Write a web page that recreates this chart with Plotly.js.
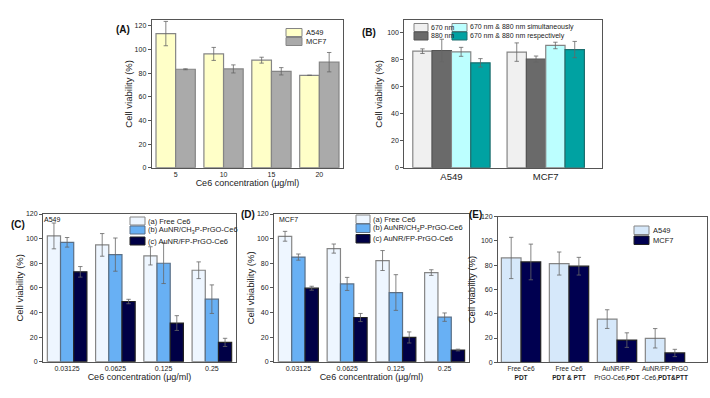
<!DOCTYPE html>
<html><head><meta charset="utf-8">
<script src="https://cdn.plot.ly/plotly-3.0.1.min.js"></script>
<style>html,body{margin:0;padding:0;background:#fff}#chart{width:710px;height:398px}</style>
</head><body><div id="chart"></div>
<script>
// ---------- Panel A ----------
const aCategories = ['5', '10', '15', '20'];
const aA549 = [113.5, 96.3, 91.0, 78.2];
const aA549Err = [10.3, 5.5, 2.5, 0];
const aMCF7 = [83.3, 83.6, 81.6, 89.3];
const aMCF7Err = [0.4, 3.4, 3.1, 8.2];
const aNames = ['A549', 'MCF7'];
// ---------- Panel B ----------
const bCategories = ['A549', 'MCF7'];
const b670 = [86.0, 85.3];
const b670Err = [1.7, 6.8];
const b880 = [86.5, 80.1];
const b880Err = [8.3, 2.3];
const bSimul = [85.5, 90.2];
const bSimulErr = [3.3, 2.4];
const bResp = [77.4, 87.2];
const bRespErr = [3.1, 6.0];
const bNames = ['670 nm', '880 nm', '670 nm & 880 nm simultaneously', '670 nm & 880 nm respectively'];
// ---------- Panels C and D ----------
const cdCategories = ['0.03125', '0.0625', '0.125', '0.25'];
const cdNames = ['(a) Free Ce6', '(b) AuNR/CH<sub>3</sub>P-PrGO-Ce6', '(c) AuNR/FP-PrGO-Ce6'];
const cFree = [102.2, 94.9, 86.0, 74.3];
const cFreeErr = [10.5, 9.2, 7.4, 6.8];
const cCH3 = [97.0, 87.0, 80.0, 50.8];
const cCH3Err = [3.9, 13.5, 16.5, 11.6];
const cFP = [73.0, 48.9, 31.4, 15.7];
const cFPErr = [4.3, 1.8, 6.0, 3.3];
const dFree = [101.9, 91.9, 82.2, 72.4];
const dFreeErr = [4.0, 3.7, 8.1, 2.3];
const dCH3 = [85.0, 63.2, 56.2, 36.2];
const dCH3Err = [2.5, 5.3, 14.5, 3.4];
const dFP = [59.7, 35.9, 19.7, 9.5];
const dFPErr = [1.6, 3.3, 4.5, 0.7];
// ---------- Panel E ----------
const eCategories = ['Free Ce6<br><b>PDT</b>', 'Free Ce6<br><b>PDT & PTT</b>', 'AuNR/FP-<br>PrGO-Ce6,<b>PDT</b>', 'AuNR/FP-PrGO<br>-Ce6,<b>PDT&PTT</b>'];
const eA549 = [86.0, 81.4, 35.6, 19.8];
const eA549Err = [17.0, 9.5, 7.7, 8.0];
const eMCF7 = [82.7, 79.2, 18.3, 7.7];
const eMCF7Err = [14.7, 7.3, 6.0, 3.0];
const eNames = ['A549', 'MCF7'];

// ---------- styling ----------
const W = 710, H = 398;
const FONT = 'Liberation Sans, Arial, sans-serif';
const colA = ['#ffffc8', '#aaaaaa'];
const colB = ['#f0f0f0', '#6a6a6a', '#bcffff', '#00a2a2'];
const colCD = ['#eef6ff', '#68b0f4', '#000046'];
const colE = ['#d6e8fa', '#000050'];
const lineGray = '#858585';

function bar(x, y, err, color, lc, xa, ya, name) {
  return {
    type: 'bar', x: x, y: y, name: name, xaxis: xa, yaxis: ya, showlegend: false,
    marker: {color: color, line: {color: lc, width: 1.2}},
    error_y: {type: 'data', array: err, visible: true, color: '#666', thickness: 0.8, width: 2.2},
    hoverinfo: 'x+y'
  };
}

const data = [
  bar(aCategories, aA549, aA549Err, colA[0], lineGray, 'x', 'y', aNames[0]),
  bar(aCategories, aMCF7, aMCF7Err, colA[1], lineGray, 'x', 'y', aNames[1]),
  bar(bCategories, b670, b670Err, colB[0], lineGray, 'x2', 'y2', bNames[0]),
  bar(bCategories, b880, b880Err, colB[1], '#555', 'x2', 'y2', bNames[1]),
  bar(bCategories, bSimul, bSimulErr, colB[2], lineGray, 'x2', 'y2', bNames[2]),
  bar(bCategories, bResp, bRespErr, colB[3], '#1c6f6f', 'x2', 'y2', bNames[3]),
  bar(cdCategories, cFree, cFreeErr, colCD[0], lineGray, 'x3', 'y3', cdNames[0]),
  bar(cdCategories, cCH3, cCH3Err, colCD[1], '#5a6f86', 'x3', 'y3', cdNames[1]),
  bar(cdCategories, cFP, cFPErr, colCD[2], '#222', 'x3', 'y3', cdNames[2]),
  bar(cdCategories, dFree, dFreeErr, colCD[0], lineGray, 'x4', 'y4', cdNames[0]),
  bar(cdCategories, dCH3, dCH3Err, colCD[1], '#5a6f86', 'x4', 'y4', cdNames[1]),
  bar(cdCategories, dFP, dFPErr, colCD[2], '#222', 'x4', 'y4', cdNames[2]),
  bar(eCategories, eA549, eA549Err, colE[0], lineGray, 'x5', 'y5', eNames[0]),
  bar(eCategories, eMCF7, eMCF7Err, colE[1], '#222', 'x5', 'y5', eNames[1])
];

const dx = (l, r) => [l / W, r / W];
const dy = (t, b) => [1 - b / H, 1 - t / H];
const frame = {showline: true, mirror: true, linecolor: '#555', linewidth: 1, zeroline: false,
  showgrid: false, fixedrange: true};
function xAx(dom, anchor, range, fs, title) {
  const o = Object.assign({}, frame, {domain: dom, anchor: anchor, type: 'category', range: range,
    ticks: '', tickfont: {family: FONT, size: fs, color: '#222'}});
  if (title) o.title = {text: title, font: {family: FONT, size: 9, color: '#222'}, standoff: 2};
  return o;
}
function yAx(dom, anchor, range, title, standoff) {
  return Object.assign({}, frame, {domain: dom, anchor: anchor, range: range,
    ticks: 'outside', ticklen: 3, tickwidth: 1, tickcolor: '#555', dtick: 20,
    tickfont: {family: FONT, size: 7, color: '#222'},
    title: {text: title, font: {family: FONT, size: 9.5, color: '#222'}, standoff: standoff}});
}

const xTitle = 'Ce6 concentration (\u03bcg/ml)';
const layout = {
  width: W, height: H, margin: {l: 0, r: 0, t: 0, b: 0},
  paper_bgcolor: '#fff', plot_bgcolor: '#fff',
  barmode: 'group', bargap: 0.18, bargroupgap: 0,
  font: {family: FONT, color: '#222'},
  xaxis: xAx(dx(151.7, 343.3), 'y', [-0.5, 3.5], 7, xTitle),
  yaxis: yAx(dy(20, 167.7), 'x', [0, 125], 'Cell viability (%)', 0),
  xaxis2: xAx(dx(404.3, 602.3), 'y2', [-0.5, 1.6], 9.5, null),
  yaxis2: yAx(dy(20, 167.7), 'x2', [0, 109], 'Cell viability (%)', 2),
  xaxis3: xAx(dx(43, 236), 'y3', [-0.5, 3.5], 7, xTitle),
  yaxis3: yAx(dy(214, 361.7), 'x3', [0, 120], 'Cell viability (%)', 0),
  xaxis4: xAx(dx(274, 469), 'y4', [-0.5, 3.5], 7, xTitle),
  yaxis4: yAx(dy(214, 361.7), 'x4', [0, 120], 'Cell vbiability (%)', 0),
  xaxis5: xAx(dx(498, 707), 'y5', [-0.48, 3.875], 6.5, null),
  yaxis5: yAx(dy(216.7, 362.3), 'x5', [0, 120], 'Cell viability (%)', 3),
  shapes: [], annotations: []
};

// manual legends (swatch + text), positions in pixels
function legend(names, colors, lcs, swL, swR, tops, h, textX, fs) {
  names.forEach((n, i) => {
    layout.shapes.push({type: 'rect', xref: 'paper', yref: 'paper',
      x0: swL / W, x1: swR / W, y0: 1 - (tops[i] + h) / H, y1: 1 - tops[i] / H,
      fillcolor: colors[i], line: {color: lcs[i], width: 1}});
    layout.annotations.push({xref: 'paper', yref: 'paper', x: textX / W, y: 1 - (tops[i] + h / 2) / H,
      xanchor: 'left', yanchor: 'middle', text: n, showarrow: false,
      font: {family: FONT, size: fs, color: '#222'}});
  });
}
legend(aNames, colA, [lineGray, lineGray], 286, 302, [28.5, 37.5], 8, 304, 7.5);
legend([bNames[0], bNames[1]], [colB[0], colB[1]], [lineGray, '#555'], 414, 428, [23.5, 32], 8, 428.5, 7);
legend([bNames[2], bNames[3]], [colB[2], colB[3]], [lineGray, '#1c6f6f'], 452, 467, [23.5, 32], 8, 467.5, 7);
legend(cdNames, colCD, [lineGray, '#5a6f86', '#222'], 130, 145, [217, 226, 237], 8, 146, 7.5);
legend(cdNames, colCD, [lineGray, '#5a6f86', '#222'], 356, 370, [215, 224, 234.5], 8.5, 371, 7.5);
legend(eNames, colE, [lineGray, '#222'], 634, 649, [226, 236], 8.5, 650.5, 7.5);

// panel labels and inset labels
function label(t, x, y, fs, bold) {
  layout.annotations.push({xref: 'paper', yref: 'paper', x: x / W, y: 1 - y / H,
    xanchor: 'center', yanchor: 'middle', showarrow: false,
    text: bold ? '<b>' + t + '</b>' : t, font: {family: FONT, size: fs, color: '#111'}});
}
label('(A)', 123, 29, 10, true);
label('(B)', 369, 32, 10, true);
label('(C)', 18, 224, 10, true);
label('(D)', 248, 215, 10, true);
label('(E)', 475, 214, 10, true);
label('A549', 52, 220, 7, false);
label('MCF7', 288, 220, 7, false);

Plotly.newPlot('chart', data, layout, {displayModeBar: false, staticPlot: true});
</script></body></html>
